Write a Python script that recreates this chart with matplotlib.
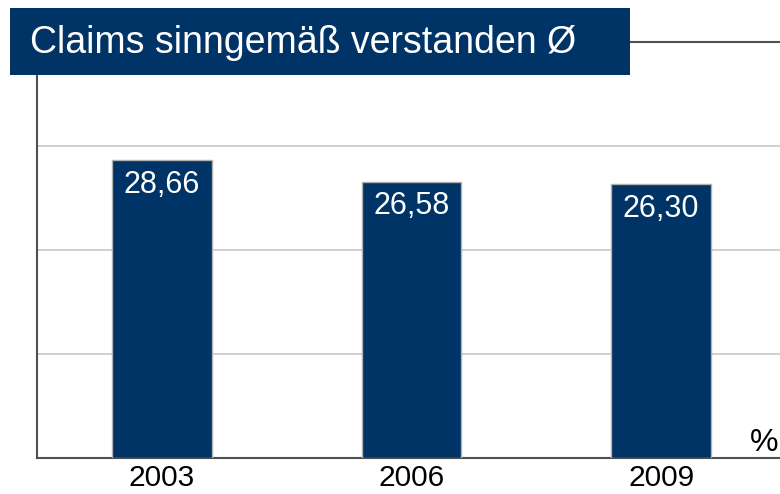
import matplotlib.pyplot as plt
from matplotlib.patches import Rectangle

years = ['2003', '2006', '2009']
values = [28.66, 26.58, 26.30]
labels = ['28,66', '26,58', '26,30']
title = 'Claims sinngemäß verstanden Ø'

navy = '#003366'
plt.rcParams['font.family'] = ['Liberation Sans', 'DejaVu Sans']

fig = plt.figure(figsize=(7.8, 4.94), dpi=100)
# axes: left 37px, right 780px, bottom 458px, top 42px
ax = fig.add_axes([37 / 780, 1 - 458 / 494, (780 - 37) / 780, (458 - 42) / 494])

x = range(len(years))
bars = ax.bar(x, values, width=0.4, color=navy, edgecolor='#b0b0b0', linewidth=1, zorder=3)

for b, lab in zip(bars, labels):
    ax.annotate(lab, (b.get_x() + b.get_width() / 2, b.get_height()),
                xytext=(0, -7), textcoords='offset points',
                ha='center', va='top', color='white', fontsize=22, zorder=4)

ax.set_xlim(-0.5, 2.476)
ax.set_ylim(0, 40)
ax.set_yticks([10, 20, 30])
ax.yaxis.grid(True, color='#c8c8c8', linewidth=1.2)
ax.set_axisbelow(True)
ax.tick_params(axis='y', left=False, labelleft=False)
ax.tick_params(axis='x', bottom=False, labelsize=21.5, pad=1)
ax.set_xticks(list(x))
ax.set_xticklabels(years)

for side in ['left', 'top', 'bottom']:
    ax.spines[side].set_color('#505050')
    ax.spines[side].set_linewidth(1.5)
ax.spines['right'].set_visible(False)

ax.text(0.998, 0.0, '%', transform=ax.transAxes, ha='right', va='bottom', fontsize=23)

# title box
fig.patches.append(Rectangle((10 / 780, 1 - 75 / 494), (630 - 10) / 780, (75 - 8) / 494,
                             transform=fig.transFigure, facecolor=navy, edgecolor='none', zorder=5))
fig.text(30 / 780, 1 - 43 / 494, title, color='white', fontsize=27, va='center', ha='left', zorder=6)

fig.savefig('out.png', dpi=100)
